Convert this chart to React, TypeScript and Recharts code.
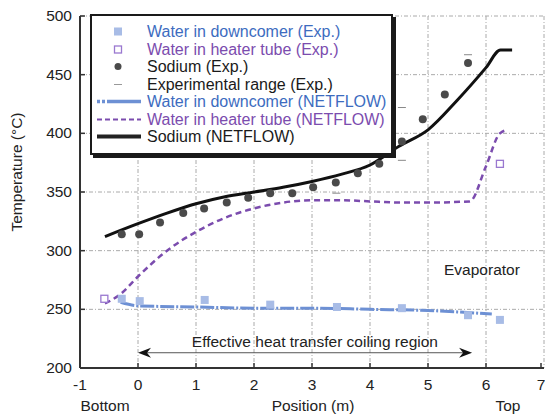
import { ComposedChart, Line, Scatter, XAxis, YAxis, CartesianGrid, ReferenceDot, ReferenceLine } from "recharts";

const X_TICKS = [-1, 0, 1, 2, 3, 4, 5, 6, 7];
const Y_TICKS = [200, 250, 300, 350, 400, 450, 500];

const DOWNCOMER_EXP = [
  { x: -0.28, y: 259 }, { x: 0.03, y: 257 }, { x: 1.15, y: 258 }, { x: 2.28, y: 254 },
  { x: 3.43, y: 252 }, { x: 4.55, y: 251 }, { x: 5.69, y: 245 }, { x: 6.24, y: 241 },
];
const HEATER_EXP = [{ x: -0.58, y: 259 }, { x: 6.24, y: 374 }];
const SODIUM_EXP = [
  { x: -0.28, y: 314 }, { x: 0.02, y: 314 }, { x: 0.38, y: 324 }, { x: 0.78, y: 332 },
  { x: 1.14, y: 336 }, { x: 1.53, y: 341 }, { x: 1.9, y: 345 }, { x: 2.28, y: 349 },
  { x: 2.66, y: 349 }, { x: 3.02, y: 354 }, { x: 3.41, y: 358 }, { x: 3.79, y: 366 },
  { x: 4.16, y: 374 }, { x: 4.55, y: 393 }, { x: 4.91, y: 412 }, { x: 5.29, y: 433 },
  { x: 5.69, y: 460 },
];
const RANGE_EXP = [{ x: 4.55, y: 422 }, { x: 4.55, y: 377 }, { x: 5.69, y: 467 }, { x: 3.42, y: 349 }];

const DOWNCOMER_SIM = [
  { x: -0.3, y: 256 }, { x: 0, y: 253 }, { x: 1, y: 252 }, { x: 2, y: 251 }, { x: 3, y: 251 },
  { x: 4, y: 250 }, { x: 5, y: 249 }, { x: 6.1, y: 246 },
];
const HEATER_SIM = [
  { x: -0.57, y: 255 }, { x: -0.3, y: 263 }, { x: 0, y: 278 }, { x: 0.5, y: 300 }, { x: 1, y: 316 },
  { x: 1.5, y: 328 }, { x: 2, y: 336 }, { x: 2.5, y: 341 }, { x: 3, y: 343 }, { x: 3.5, y: 343 },
  { x: 4, y: 342 }, { x: 4.5, y: 341 }, { x: 5, y: 341 }, { x: 5.72, y: 342 }, { x: 6.0, y: 372 },
  { x: 6.24, y: 400 }, { x: 6.38, y: 403 },
];
const SODIUM_SIM = [
  { x: -0.57, y: 312 }, { x: 0, y: 323 }, { x: 0.5, y: 332 }, { x: 1, y: 340 }, { x: 1.5, y: 346 },
  { x: 2, y: 350 }, { x: 2.5, y: 354 }, { x: 3, y: 359 }, { x: 3.5, y: 365 }, { x: 4, y: 373 },
  { x: 4.5, y: 389 }, { x: 5, y: 403 }, { x: 5.5, y: 428 }, { x: 6, y: 456 }, { x: 6.25, y: 471 },
  { x: 6.45, y: 471 },
];

const LEGEND_ITEMS = [
  { name: "Water in downcomer (Exp.)", icon: "blueSq", color: "#3d6cbf" },
  { name: "Water in heater tube (Exp.)", icon: "purpleSq", color: "#7b4cae" },
  { name: "Sodium (Exp.)", icon: "dot", color: "#1a1a1a" },
  { name: "Experimental range (Exp.)", icon: "range", color: "#1a1a1a" },
  { name: "Water in downcomer (NETFLOW)", icon: "blueLine", color: "#3d6cbf" },
  { name: "Water in heater tube (NETFLOW)", icon: "purpleLine", color: "#7b4cae" },
  { name: "Sodium (NETFLOW)", icon: "blackLine", color: "#1a1a1a" },
];

const FONT = "'Liberation Sans', Arial, sans-serif";
const AXIS = "#333";

function BottomTick({ x, y, payload }: any) {
  return (
    <g>
      <line x1={x} y1={y} x2={x} y2={y - 5} stroke={AXIS} strokeWidth={1.5} />
      <text x={x} y={y + 22} textAnchor="middle" fontSize={15.5} fill="#222" fontFamily={FONT}>{payload.value}</text>
    </g>
  );
}
function TopTick({ x, y }: any) {
  return <line x1={x} y1={y} x2={x} y2={y + 5} stroke={AXIS} strokeWidth={1.5} />;
}
function LeftTick({ x, y, payload }: any) {
  return (
    <g>
      <line x1={x} y1={y} x2={x + 5} y2={y} stroke={AXIS} strokeWidth={1.5} />
      <text x={x - 8} y={y + 5} textAnchor="end" fontSize={15.5} fill="#222" fontFamily={FONT}>{payload.value}</text>
    </g>
  );
}
function RightTick({ x, y }: any) {
  return <line x1={x} y1={y} x2={x - 5} y2={y} stroke={AXIS} strokeWidth={1.5} />;
}

const blueSquare = ({ cx, cy }: any) => <rect x={cx - 4} y={cy - 4} width={8} height={8} fill="#a8bce6" />;
const purpleSquare = ({ cx, cy }: any) => <rect x={cx - 3.5} y={cy - 3.5} width={7} height={7} fill="#fff" stroke="#9a78d0" strokeWidth={1.3} />;
const sodiumDot = ({ cx, cy }: any) => <circle cx={cx} cy={cy} r={4} fill="#4a4a4a" />;
const rangeDash = ({ cx, cy }: any) => <line x1={cx - 4} y1={cy} x2={cx + 4} y2={cy} stroke="#888" strokeWidth={1} />;

function ArrowShape({ x1, y1, x2, y2 }: any) {
  const a = x1 ?? 0, b = x2 ?? 0, y = y1 ?? y2 ?? 0;
  return (
    <g>
      <line x1={a + 6} y1={y} x2={b - 6} y2={y} stroke="#555" strokeWidth={1} />
      <path d={`M${a},${y} L${a + 13},${y - 5} L${a + 9},${y} L${a + 13},${y + 5} Z`} fill="#111" />
      <path d={`M${b},${y} L${b - 13},${y - 5} L${b - 9},${y} L${b - 13},${y + 5} Z`} fill="#111" />
    </g>
  );
}

function LegendIcon({ kind }: { kind: string }) {
  return (
    <svg width={46} height={17} style={{ display: "block" }}>
      {kind === "blueSq" && <rect x={18} y={4.5} width={8} height={8} fill="#a8bce6" />}
      {kind === "purpleSq" && <rect x={18.5} y={5} width={7} height={7} fill="#fff" stroke="#9a78d0" strokeWidth={1.3} />}
      {kind === "dot" && <circle cx={22} cy={8.5} r={3.5} fill="#4a4a4a" />}
      {kind === "range" && <line x1={18} y1={8.5} x2={26} y2={8.5} stroke="#999" strokeWidth={1} />}
      {kind === "blueLine" && <line x1={1} y1={8.5} x2={45} y2={8.5} stroke="#6d90d4" strokeWidth={3.5} strokeDasharray="3 2 3 2 40" />}
      {kind === "purpleLine" && <line x1={1} y1={8.5} x2={45} y2={8.5} stroke="#7b4cae" strokeWidth={2} strokeDasharray="5 3" />}
      {kind === "blackLine" && <line x1={1} y1={8.5} x2={45} y2={8.5} stroke="#222" strokeWidth={4} />}
    </svg>
  );
}

export default function App() {
  return (
    <div style={{ position: "absolute", left: 0, top: 0, width: 545, height: 416, background: "#fff", fontFamily: FONT }}>
      <ComposedChart width={545} height={416} margin={{ top: 16, right: 1, bottom: 0, left: 0 }}>
        <CartesianGrid stroke="#aaa" strokeDasharray="4 2 1 2" />
        <XAxis
          dataKey="x" type="number" domain={[-1, 7]} ticks={X_TICKS} allowDataOverflow
          height={48} tickSize={0} tickMargin={0} tickLine={false} tick={<BottomTick />}
          axisLine={{ stroke: AXIS, strokeWidth: 2 }}
          label={{
            content: ({ viewBox }: any) => (
              <g fontFamily={FONT} fontSize={15.5} fill="#222">
                <text x={viewBox.x + 25} y={viewBox.y + 43} textAnchor="middle">Bottom</text>
                <text x={viewBox.x + 233} y={viewBox.y + 43} textAnchor="middle">Position (m)</text>
                <text x={viewBox.x + 428} y={viewBox.y + 43} textAnchor="middle">Top</text>
              </g>
            ),
          }}
        />
        <XAxis xAxisId="top" orientation="top" dataKey="x" type="number" domain={[-1, 7]} ticks={X_TICKS}
          height={0} tickSize={0} tickMargin={0} tickLine={false} tick={<TopTick />} axisLine={{ stroke: AXIS, strokeWidth: 2 }} />
        <YAxis
          dataKey="y" type="number" domain={[200, 500]} ticks={Y_TICKS} allowDataOverflow
          width={80} tickSize={0} tickMargin={0} tickLine={false} tick={<LeftTick />}
          axisLine={{ stroke: AXIS, strokeWidth: 2 }}
          label={{
            content: () => (
              <text x={22} y={172} transform="rotate(-90 22 172)" textAnchor="middle" fontSize={15.5} fill="#222" fontFamily={FONT}>
                Temperature (°C)
              </text>
            ),
          }}
        />
        <YAxis yAxisId="right" orientation="right" dataKey="y" type="number" domain={[200, 500]} ticks={Y_TICKS}
          width={0} tickSize={0} tickMargin={0} tickLine={false} tick={<RightTick />} axisLine={{ stroke: AXIS, strokeWidth: 2 }} />

        <Line data={DOWNCOMER_SIM} dataKey="y" type="monotone" stroke="#6d90d4" strokeWidth={3} strokeDasharray="14 2 2 2" dot={false} activeDot={false} isAnimationActive={false} />
        <Line data={HEATER_SIM} dataKey="y" type="monotone" stroke="#7b4cae" strokeWidth={2.5} strokeDasharray="6 4" dot={false} activeDot={false} isAnimationActive={false} />
        <Line data={SODIUM_SIM} dataKey="y" type="monotone" stroke="#111" strokeWidth={3} dot={false} activeDot={false} isAnimationActive={false} />

        <Scatter data={DOWNCOMER_EXP} dataKey="y" shape={blueSquare} isAnimationActive={false} />
        <Scatter data={HEATER_EXP} dataKey="y" shape={purpleSquare} isAnimationActive={false} />
        <Scatter data={SODIUM_EXP} dataKey="y" shape={sodiumDot} isAnimationActive={false} />
        <Scatter data={RANGE_EXP} dataKey="y" shape={rangeDash} isAnimationActive={false} />

        <ReferenceLine segment={[{ x: 0, y: 213 }, { x: 5.76, y: 213 }]} shape={<ArrowShape />} />
        <ReferenceDot x={3.05} y={223} r={0} stroke="none" fill="none"
          label={{ value: "Effective heat transfer coiling region", position: "center", fontSize: 15.5, fill: "#222", fontFamily: FONT }} />
        <ReferenceDot x={5.93} y={284} r={0} stroke="none" fill="none"
          label={{ value: "Evaporator", position: "center", fontSize: 15.5, fill: "#222", fontFamily: FONT }} />
      </ComposedChart>

      <div style={{ position: "absolute", left: 90, top: 14, width: 299, height: 130, background: "#fff", border: "2px solid #1a1a1a", boxShadow: "3px 3px 0 #1a1a1a", paddingTop: 7, boxSizing: "content-box" }}>
        {LEGEND_ITEMS.map((d) => (
          <div key={d.name} style={{ display: "flex", alignItems: "center", height: 17.5 }}>
            <div style={{ width: 4 }} />
            <LegendIcon kind={d.icon} />
            <span style={{ marginLeft: 5, fontSize: 16, color: d.color, whiteSpace: "nowrap", lineHeight: "17.5px" }}>{d.name}</span>
          </div>
        ))}
      </div>
    </div>
  );
}
